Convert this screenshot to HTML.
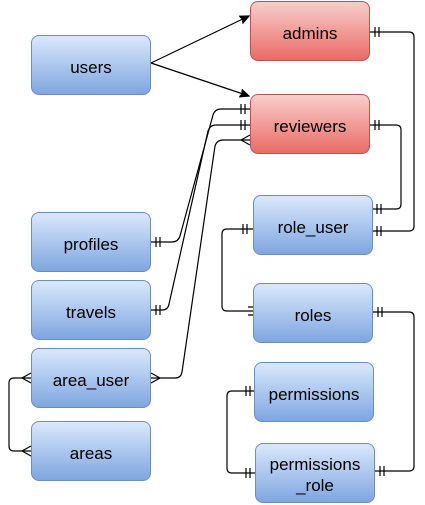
<!DOCTYPE html><html><head><style>
body{margin:0;width:425px;height:505px;background:#fff;position:relative;overflow:hidden;font-family:"Liberation Sans",Helvetica,sans-serif}
.b{position:absolute;width:118px;height:58px;border:1px solid #6c8ebf;border-radius:8px;background:linear-gradient(#dae8fc,#7ea6e0);display:flex;align-items:center;justify-content:center;text-align:center;font-size:17px;color:#000;line-height:21px;box-sizing:content-box}
.b span{position:relative;top:2px}
.r{border-color:#b85450;background:linear-gradient(#f8cecc,#ea6b66)}
svg{position:absolute;left:0;top:0}
</style></head><body>
<svg width="425" height="505" fill="none" stroke="#000" stroke-width="1.2">
<defs><marker id="a" markerWidth="10" markerHeight="10" refX="9" refY="5" orient="auto" markerUnits="userSpaceOnUse"><path d="M0,1L9,5L0,9L2,5Z" fill="#000"/></marker></defs>
<path d="M151,63L249,16" marker-end="url(#a)"/>
<path d="M151,63L249,96" marker-end="url(#a)"/>
<path d="M370,32H409Q414,32 414,37V226Q414,231 409,231H373"/>
<path d="M370,125H396Q401,125 401,130V204Q401,209 396,209H373"/>
<path d="M151,242H172Q178,242 180,236L213,115Q215,109 221,109H250"/>
<path d="M151,310H162Q168,310 169,304L208,131Q210,125 216,125H250"/>
<path d="M151,378H175Q181,378 182,372L215,146Q217,140 223,140H250"/>
<path d="M253,229H227Q222,229 222,234V306Q222,311 227,311H253"/>
<path d="M373,312H409Q414,312 414,317V466Q414,471 409,471H375"/>
<path d="M254,391H232Q227,391 227,396V468Q227,473 232,473H255"/>
<path d="M31,378H14Q9,378 9,383V446Q9,451 14,451H31"/>
<g>
<path d="M375,27v10M379,27v10"/><path d="M377,226v10M381,226v10"/>
<path d="M375,120v10M379,120v10"/><path d="M377,204v10M381,204v10"/>
<path d="M241,104v10M245,104v10"/><path d="M241,120v10M245,120v10"/>
<path d="M250,135L241,140L250,145"/>
<path d="M156,237v10M160,237v10"/><path d="M156,305v10M160,305v10"/>
<path d="M151,373L160,378L151,383"/>
<path d="M31,373L22,378L31,383"/><path d="M31,446L22,451L31,456"/>
<path d="M243,224v10M247,224v10"/><path d="M248,307h8M248,315h8"/>
<path d="M378,307v10M382,307v10"/><path d="M380,466v10M384,466v10"/>
<path d="M246,386v10M250,386v10"/><path d="M246,468v10M250,468v10"/>
</g>
</svg>
<div class="b" style="left:31px;top:35px"><span>users</span></div>
<div class="b r" style="left:250px;top:1px"><span>admins</span></div>
<div class="b r" style="left:250px;top:94px"><span>reviewers</span></div>
<div class="b" style="left:253px;top:195px"><span>role_user</span></div>
<div class="b" style="left:31px;top:212px"><span>profiles</span></div>
<div class="b" style="left:31px;top:280px"><span>travels</span></div>
<div class="b" style="left:31px;top:348px"><span>area_user</span></div>
<div class="b" style="left:31px;top:421px"><span>areas</span></div>
<div class="b" style="left:253px;top:283px"><span>roles</span></div>
<div class="b" style="left:254px;top:362px"><span>permissions</span></div>
<div class="b" style="left:255px;top:443px"><span>permissions<br>_role</span></div>
</body></html>
